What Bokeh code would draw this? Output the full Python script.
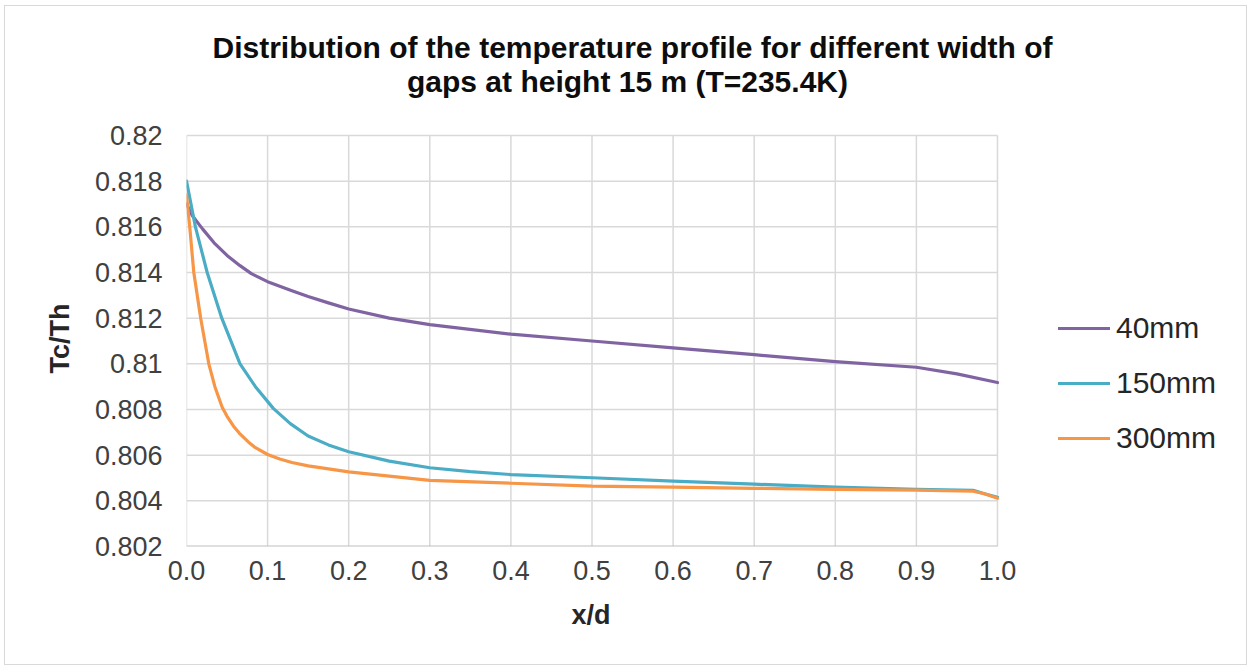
from bokeh.plotting import figure
from bokeh.models import Range1d, FixedTicker, Legend, LegendItem, Title, Label, ColumnDataSource
from bokeh.embed import file_html
from bokeh.resources import INLINE

# ---- data ----
x_40 = [0.0, 0.007, 0.02, 0.034, 0.05, 0.066, 0.08, 0.1, 0.13, 0.15, 0.175, 0.2, 0.25, 0.3, 0.4, 0.5,
        0.6, 0.7, 0.8, 0.9, 0.95, 1.0]
y_40 = [0.8170, 0.8165, 0.8159, 0.8153, 0.81475, 0.8143, 0.81395, 0.8136, 0.8132, 0.81295, 0.81267,
        0.8124, 0.8120, 0.81172, 0.8113, 0.8110, 0.8107, 0.8104, 0.8101, 0.80985, 0.80956, 0.80918]

x_150 = [0.0, 0.011, 0.0255, 0.0435, 0.066, 0.085, 0.107, 0.128, 0.15, 0.175, 0.2, 0.25, 0.3, 0.35,
         0.4, 0.5, 0.6, 0.7, 0.8, 0.9, 0.97, 0.985, 1.0]
y_150 = [0.8180, 0.8160, 0.8140, 0.8120, 0.8100, 0.8090, 0.80805, 0.80738, 0.80684, 0.80645, 0.80615,
         0.80574, 0.80545, 0.80528, 0.80515, 0.80501, 0.80486, 0.80473, 0.8046, 0.8045, 0.80446,
         0.8043, 0.80415]

x_300 = [0.0, 0.004, 0.009, 0.0175, 0.0275, 0.035, 0.044, 0.05, 0.058, 0.065, 0.0765, 0.085, 0.1,
         0.115, 0.13, 0.15, 0.2, 0.3, 0.4, 0.5, 0.6, 0.7, 0.8, 0.9, 0.97, 0.985, 1.0]
y_300 = [0.8174, 0.8160, 0.8140, 0.8120, 0.8100, 0.8090, 0.8081, 0.8077, 0.80727, 0.80697, 0.80657,
         0.80633, 0.80603, 0.80583, 0.80568, 0.80553, 0.80527, 0.8049, 0.80477, 0.80464, 0.8046,
         0.80455, 0.8045, 0.80447, 0.80442, 0.8043, 0.80411]

series_names = ["40mm", "150mm", "300mm"]
series_colors = ["#8064A2", "#4BACC6", "#F79646"]

x_ticks = [0.0, 0.1, 0.2, 0.3, 0.4, 0.5, 0.6, 0.7, 0.8, 0.9, 1.0]
x_tick_labels = ["0.0", "0.1", "0.2", "0.3", "0.4", "0.5", "0.6", "0.7", "0.8", "0.9", "1.0"]
y_ticks = [0.802, 0.804, 0.806, 0.808, 0.81, 0.812, 0.814, 0.816, 0.818, 0.82]
y_tick_labels = ["0.802", "0.804", "0.806", "0.808", "0.81", "0.812", "0.814", "0.816", "0.818", "0.82"]

title_lines = ["Distribution of the temperature profile for different width of",
               "gaps at height 15 m (T=235.4K)"]
x_title = "x/d"
y_title = "Tc/Th"

FONT = "Liberation Sans"
X_MIN, X_MAX = x_ticks[0], x_ticks[-1]
Y_MIN, Y_MAX = y_ticks[0], y_ticks[-1]
# the drawing area also covers the legend (right) and title (top) space;
# grid lines are drawn only over the data box 0..1 x 0.802..0.82
X_VIEW_MAX = 1.3095
Y_VIEW_MAX = 0.82565

p = figure(width=1243, height=660,
           x_range=Range1d(X_MIN, X_VIEW_MAX), y_range=Range1d(Y_MIN, Y_VIEW_MAX),
           output_backend="svg", toolbar_location=None,
           min_border_left=181, min_border_right=0,
           min_border_top=0, min_border_bottom=120)
p.styles = {"margin-left": "4px", "margin-top": "5px", "border": "1px solid #d9d9d9"}
p.outline_line_color = None
p.background_fill_color = "white"
p.border_fill_color = "white"
p.title.text = ""

# grid lines limited to the data box
p.xgrid.grid_line_color = None
p.ygrid.grid_line_color = None
vg = ColumnDataSource(dict(x=x_ticks, y0=[Y_MIN] * len(x_ticks), y1=[Y_MAX] * len(x_ticks)))
p.segment(x0="x", x1="x", y0="y0", y1="y1", source=vg, line_color="#d9d9d9", line_width=1.5)
hg = ColumnDataSource(dict(x0=[X_MIN] * len(y_ticks[1:]), x1=[X_MAX] * len(y_ticks[1:]), y=y_ticks[1:]))
p.segment(x0="x0", x1="x1", y0="y", y1="y", source=hg, line_color="#d9d9d9", line_width=1.5)
p.segment(x0=[X_MIN], x1=[X_MAX], y0=[Y_MIN], y1=[Y_MIN], line_color="#bfbfbf", line_width=2)

# axes
p.xaxis.ticker = FixedTicker(ticks=x_ticks)
p.xaxis.major_label_overrides = dict(zip(x_ticks, x_tick_labels))
p.yaxis.ticker = FixedTicker(ticks=y_ticks)
p.yaxis.major_label_overrides = dict(zip(y_ticks, y_tick_labels))
for ax in (p.xaxis[0], p.yaxis[0]):
    ax.major_tick_line_color = None
    ax.minor_tick_line_color = None
    ax.major_tick_out = 0
    ax.major_tick_in = 0
    ax.axis_line_color = None
    ax.major_label_text_font = FONT
    ax.major_label_text_font_size = "27px"
    ax.major_label_text_color = "#404040"
p.xaxis.major_label_standoff = 14
p.yaxis.major_label_standoff = 24

# axis titles placed over the data box
xt = Title(text=x_title, align="left", offset=385, standoff=30,
           text_font=FONT, text_font_size="27px", text_font_style="bold", text_color="#262626")
p.add_layout(xt, "below")
yt = Title(text=y_title, align="left", offset=173, standoff=34,
           text_font=FONT, text_font_size="27px", text_font_style="bold", text_color="#262626")
p.add_layout(yt, "left")

# lines
renderers = []
for xs, ys, c in ((x_40, y_40, series_colors[0]), (x_150, y_150, series_colors[1]), (x_300, y_300, series_colors[2])):
    src = ColumnDataSource(dict(x=xs, y=ys))
    r = p.line("x", "y", source=src, line_color=c, line_width=3.2, line_join="round", line_cap="round")
    renderers.append(r)

legend = Legend(items=[LegendItem(label=n, renderers=[r]) for n, r in zip(series_names, renderers)],
                location=(872, 91))
legend.border_line_color = None
legend.background_fill_alpha = 0
legend.padding = 0
legend.margin = 0
legend.spacing = 21
legend.glyph_width = 52
legend.glyph_height = 30
legend.label_height = 30
legend.label_standoff = 6
legend.label_text_font = FONT
legend.label_text_font_size = "30px"
legend.label_text_color = "#262626"
legend.label_text_baseline = "middle"
p.add_layout(legend, "center")

# chart title: two centred lines (screen offsets from the drawing area's lower-left corner)
for t, (tx, ty) in zip(title_lines, [(446, 499), (441, 465)]):
    p.add_layout(Label(x=tx, y=ty, x_units="screen", y_units="screen", text=t,
                       text_align="center", text_baseline="middle",
                       text_font=FONT, text_font_size="30px", text_font_style="bold",
                       text_color="#0d0d0d"))

open("out.html", "w").write(file_html(p, INLINE))
